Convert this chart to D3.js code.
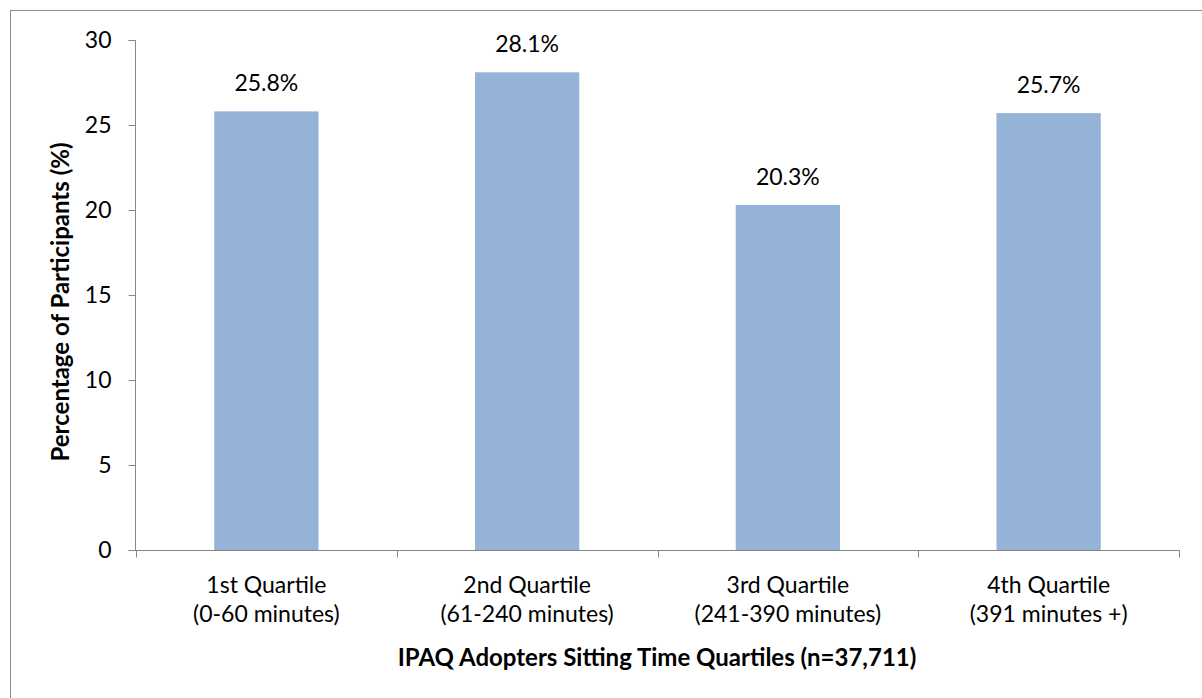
<!DOCTYPE html>
<html><head><meta charset="utf-8">
<script src="https://cdn.jsdelivr.net/npm/d3@7"></script>
<style>body{margin:0;background:#fff}svg{display:block}</style>
</head><body><svg id="c" width="1202" height="698"></svg>
<script>
const categories = ["1st Quartile|(0-60 minutes)","2nd Quartile|(61-240 minutes)","3rd Quartile|(241-390 minutes)","4th Quartile|(391 minutes +)"];
const values = [25.8, 28.1, 20.3, 25.7];
const yTicks = [0,5,10,15,20,25,30];
const xTitle = "IPAQ Adopters Sitting Time Quartiles (n=37,711)";
const yTitle = "Percentage of Participants (%)";

const font = "Lato, 'Open Sans', sans-serif";
const fs = 23;
const svg = d3.select("#c");
svg.append("rect").attr("x",10.5).attr("y",10.5).attr("width",1300).attr("height",800)
  .attr("fill","none").attr("stroke","#8c8c8c").attr("stroke-width",1);

const x = d3.scaleBand().domain(categories).range([136,1179]).paddingInner(0.6).paddingOuter(0.3);
const xb = d3.scaleBand().domain(categories).range([136,1179]);
const y = d3.scaleLinear().domain([0,30]).range([550,40]);
const axisColor = "#868686";

// bars
svg.selectAll("rect.bar").data(values).enter().append("rect")
  .attr("class","bar")
  .attr("x",(d,i)=>x(categories[i])).attr("width",x.bandwidth())
  .attr("y",d=>y(d)).attr("height",d=>y(0)-y(d))
  .attr("fill","#95B3D7");

// y axis
const ya = svg.append("g").attr("transform","translate(135.5,0)")
  .call(d3.axisLeft(y).tickValues(yTicks).tickSize(7).tickPadding(17).tickFormat(d3.format("d")));
ya.select(".domain").attr("stroke",axisColor).attr("d","M-7,40.5H0V550.5H-7");
ya.selectAll(".tick line").attr("stroke",axisColor);
ya.selectAll(".tick text").attr("font-family",font).attr("font-size",fs).attr("fill","#000");
ya.selectAll(".tick").attr("transform",d=>`translate(0,${Math.round(y(d))+0.5})`);

// x axis
const xa = svg.append("g").attr("transform","translate(0,550.5)");
xa.append("line").attr("x1",135).attr("x2",1179.5).attr("stroke",axisColor);
const bounds = categories.map(c=>xb(c)).concat([xb(categories[3])+xb.bandwidth()]);
xa.selectAll("line.t").data(bounds).enter().append("line").attr("class","t")
  .attr("x1",d=>Math.round(d)+0.5).attr("x2",d=>Math.round(d)+0.5).attr("y1",0).attr("y2",7).attr("stroke",axisColor);
categories.forEach(c=>{
  const parts = c.split("|");
  const t = svg.append("text").attr("font-family",font).attr("font-size",fs).attr("text-anchor","middle").attr("fill","#000");
  parts.forEach((p,j)=>t.append("tspan").attr("x",xb(c)+xb.bandwidth()/2).attr("y",593+j*29).text(p));
});

// value labels
svg.selectAll("text.v").data(values).enter().append("text").attr("class","v")
  .attr("x",(d,i)=>x(categories[i])+x.bandwidth()/2).attr("y",d=>y(d)-20)
  .attr("text-anchor","middle").attr("font-family",font).attr("font-size",fs).attr("fill","#000")
  .text(d=>d.toFixed(1)+"%");

// titles
svg.append("text").attr("x",657).attr("y",666).attr("text-anchor","middle")
  .attr("font-family",font).attr("font-size",24).attr("font-weight","bold").text(xTitle);
svg.append("text").attr("transform","translate(69,302) rotate(-90)").attr("text-anchor","middle")
  .attr("font-family",font).attr("font-size",24).attr("font-weight","bold").text(yTitle);
</script></body></html>
